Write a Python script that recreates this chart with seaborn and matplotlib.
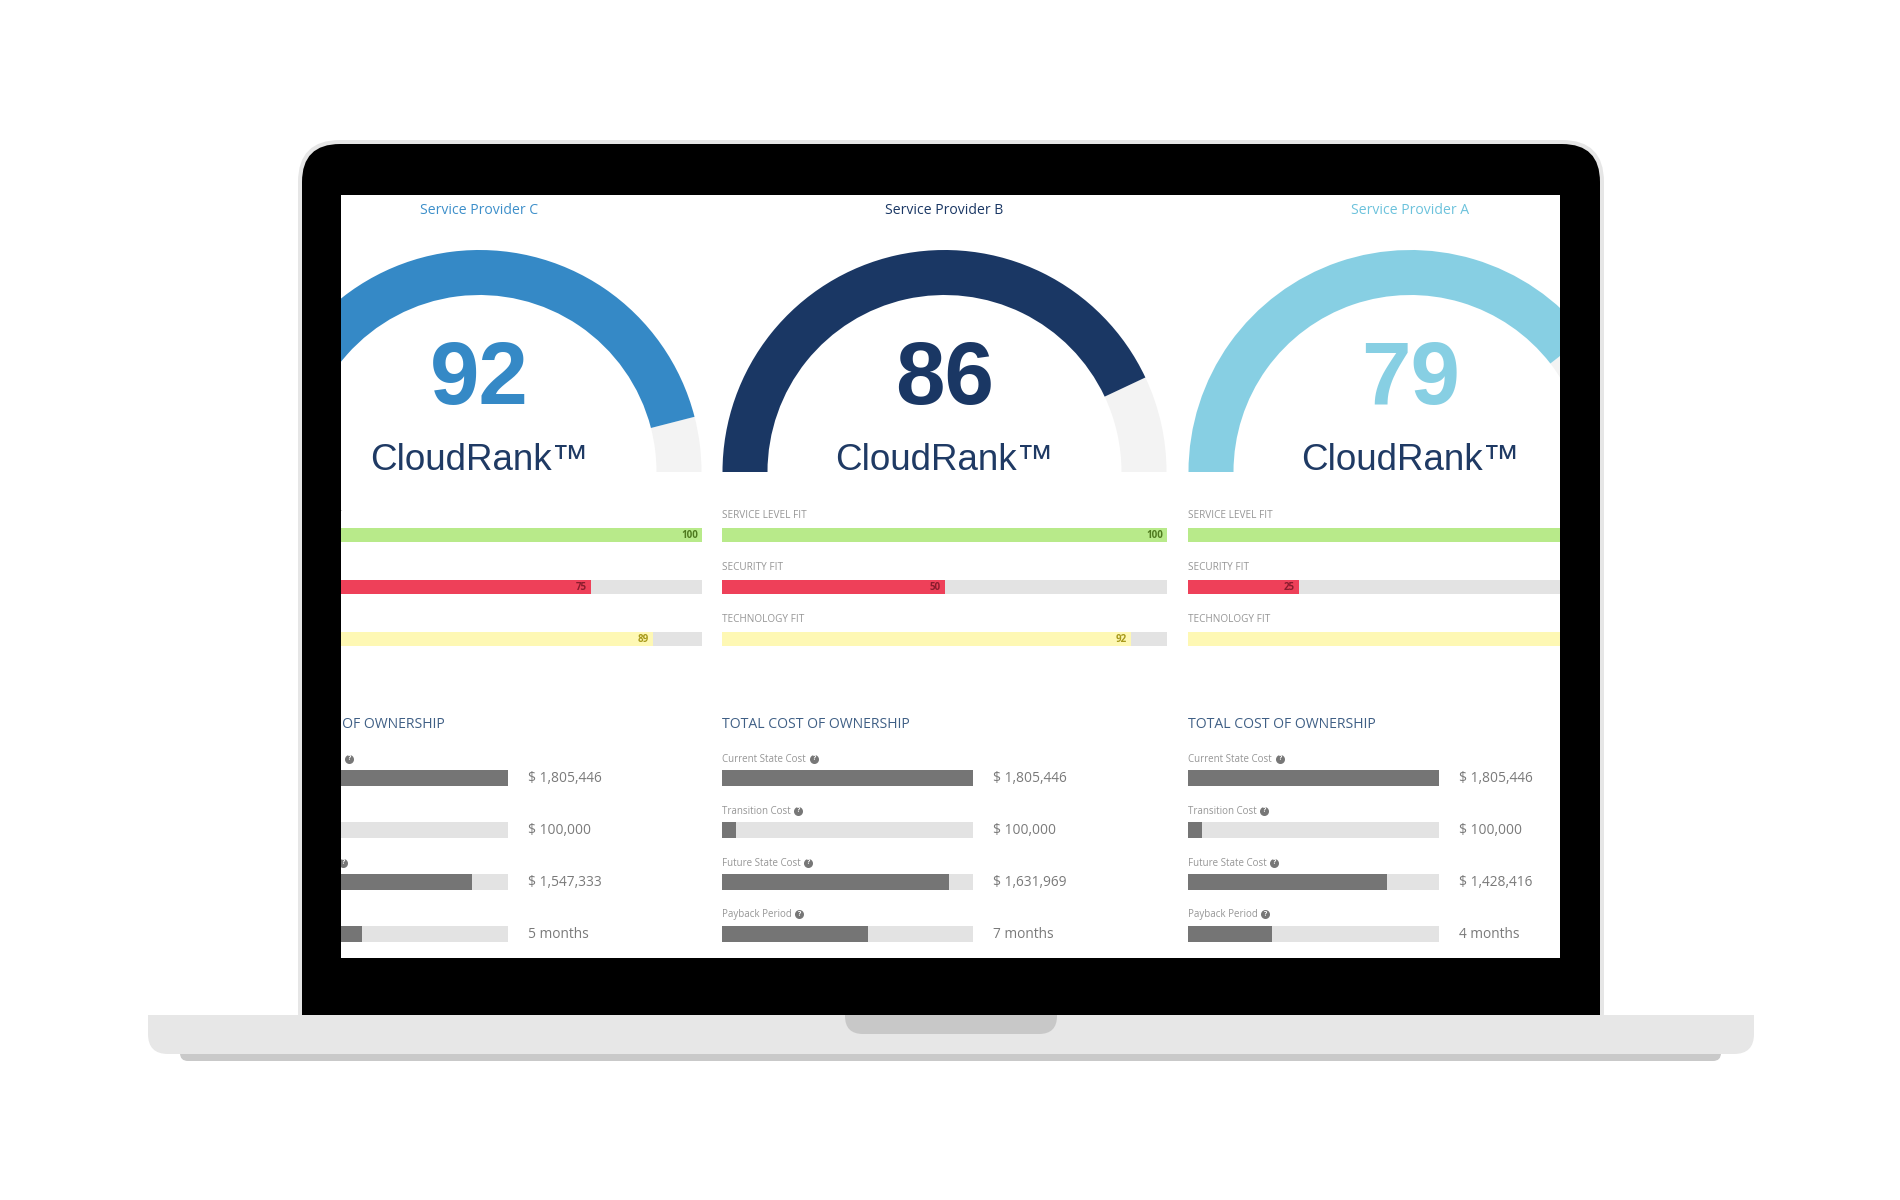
import matplotlib
matplotlib.use("Agg")
import matplotlib.pyplot as plt
from matplotlib.patches import FancyBboxPatch, Rectangle, Wedge
import seaborn as sns
import pandas as pd

# values, columns left to right
providers = ["Service Provider C", "Service Provider B", "Service Provider A"]
scores = [92, 86, 79]
fit_names = ["SERVICE LEVEL FIT", "SECURITY FIT", "TECHNOLOGY FIT"]
service_fit = [100, 100, 100]
security_fit = [75, 50, 25]
technology_fit = [89, 92, 95]

cost_names = ["Current State Cost", "Transition Cost", "Future State Cost", "Payback Period"]
current_cost = [1805446, 1805446, 1805446]
transition_cost = [100000, 100000, 100000]
future_cost = [1547333, 1631969, 1428416]
payback_months = [5, 7, 4]
max_cost = 1805446
max_months = 12

gauge_colors = ["#3589c6", "#1a3764", "#87cfe3"]
title_colors = ["#3d8fca", "#1a3764", "#6cc2dc"]
fit_colors = ["#b8ea8a", "#ee4059", "#fef8b4"]
fit_text_colors = ["#4f7a1f", "#8a1c2d", "#a89a1c"]

W, H = 1900, 1200
SCR = (341, 195, 1560, 958)
COL_LEFT = [257, 722, 1188]
HELP_OFFSET = [92, 76, 86, 77]

sns.set_style("white")
plt.rcParams["font.family"] = ["Open Sans", "DejaVu Sans"]
fig = plt.figure(figsize=(W / 100, H / 100), dpi=100, facecolor="white")


def px_axes(x0, y0, x1, y1):
    return fig.add_axes([x0 / W, 1 - y1 / H, (x1 - x0) / W, (y1 - y0) / H])


# laptop body
base = px_axes(0, 0, W, H)
base.set_xlim(0, W)
base.set_ylim(H, 0)
base.axis("off")


def rbox(x0, y0, x1, y1, r, color, clip_top=None):
    p = FancyBboxPatch((x0, y0), x1 - x0, y1 - y0, boxstyle=f"round,pad=0,rounding_size={r}",
                       fc=color, ec="none")
    base.add_patch(p)
    if clip_top is not None:
        p.set_clip_path(Rectangle((x0, clip_top), x1 - x0, y1 - clip_top, transform=base.transData))


rbox(298, 140, 1604, 1054, 42, "#e6e6e6")
rbox(302, 144, 1600, 1054, 38, "black")
rbox(180, 1030, 1721, 1061, 8, "#c9c9c9")
rbox(148, 975, 1754, 1054, 20, "#e7e7e7", clip_top=1015)
rbox(845, 990, 1057, 1034, 18, "#c8c8c8", clip_top=1015)

# screen, everything in it gets clipped by the axes
scr = px_axes(*SCR)
scr.set_xlim(SCR[0], SCR[2])
scr.set_ylim(SCR[3], SCR[1])
scr.set_xticks([])
scr.set_yticks([])
scr.set_facecolor("white")
for s in scr.spines.values():
    s.set_visible(False)


def label(x, y, txt, **kw):
    scr.text(x, y, txt, va="center", clip_on=True, **kw)


for i, name in enumerate(providers):
    left = COL_LEFT[i]
    cx = left + 222.5
    label(cx, 210.5, name, ha="center", fontsize=10.1, color=title_colors[i])

    # gauge, y axis is flipped so 180 -> 360 runs over the top
    end = 180 + 180 * scores[i] / 100
    scr.add_patch(Wedge((cx, 472), 222, end, 360, width=45, fc="#f3f3f3", ec="none"))
    scr.add_patch(Wedge((cx, 472), 222, 180, end, width=45, fc=gauge_colors[i], ec="none"))
    label(cx, 381, str(scores[i]), ha="center", fontsize=64, fontweight="bold",
          family="Liberation Sans", color=gauge_colors[i])
    label(cx, 461, "CloudRank™", ha="center", fontsize=26.5, family="Liberation Sans", color="#1f3a64")

    # fit bars
    for n, y in zip(fit_names, [515, 567, 620]):
        label(left, y, n, fontsize=7.2, color="#969696")
    fit = pd.DataFrame({"metric": fit_names,
                        "value": [service_fit[i], security_fit[i], technology_fit[i]],
                        "track": [100, 100, 100]})
    x0 = max(left, SCR[0])
    x1 = min(left + 445, SCR[2])
    ax = px_axes(x0, 535 - 26, x1, 639 + 26)
    sns.barplot(data=fit, y="metric", x="track", color="#e3e3e3", saturation=1, width=0.26, linewidth=0, ax=ax)
    sns.barplot(data=fit, y="metric", x="value", hue="metric", palette=fit_colors, saturation=1,
                width=0.26, linewidth=0, legend=False, ax=ax)
    ax.set_xlim((x0 - left) / 4.45, (x1 - left) / 4.45)
    for k, v in enumerate(fit["value"]):
        ax.annotate(str(v), (v, k), xytext=(-3, 0), textcoords="offset points", ha="right", va="center",
                    fontsize=7, fontweight="bold", color=fit_text_colors[k], annotation_clip=True)
    ax.axis("off")

    # total cost of ownership
    label(left, 725, "TOTAL COST OF OWNERSHIP", fontsize=10.1, color="#3f5f85")
    share = [current_cost[i] / max_cost, transition_cost[i] / max_cost,
             future_cost[i] / max_cost, payback_months[i] / max_months]
    values = [f"$ {current_cost[i]:,}", f"$ {transition_cost[i]:,}", f"$ {future_cost[i]:,}",
              f"{payback_months[i]} months"]
    for k, n in enumerate(cost_names):
        y = [759, 811, 863, 914][k]
        label(left, y, n, fontsize=7, color="#969696")
        scr.plot([left + HELP_OFFSET[k]], [y], "o", ms=6.5, color="#777777", mec="none")
        label(left + HELP_OFFSET[k], y, "?", ha="center", fontsize=5, fontweight="bold", color="white")
        label(left + 271, 778 + 52 * k, values[k], fontsize=9.9, color="#7a7a7a")
    cost = pd.DataFrame({"metric": cost_names, "share": share, "track": [1, 1, 1, 1]})
    x1 = left + 251
    ax = px_axes(x0, 778 - 26, x1, 934 + 26)
    sns.barplot(data=cost, y="metric", x="track", color="#e3e3e3", saturation=1, width=0.29, linewidth=0, ax=ax)
    sns.barplot(data=cost, y="metric", x="share", color="#757575", saturation=1, width=0.29, linewidth=0, ax=ax)
    ax.set_xlim((x0 - left) / 251, 1)
    ax.axis("off")

fig.savefig("out.png", dpi=100)
